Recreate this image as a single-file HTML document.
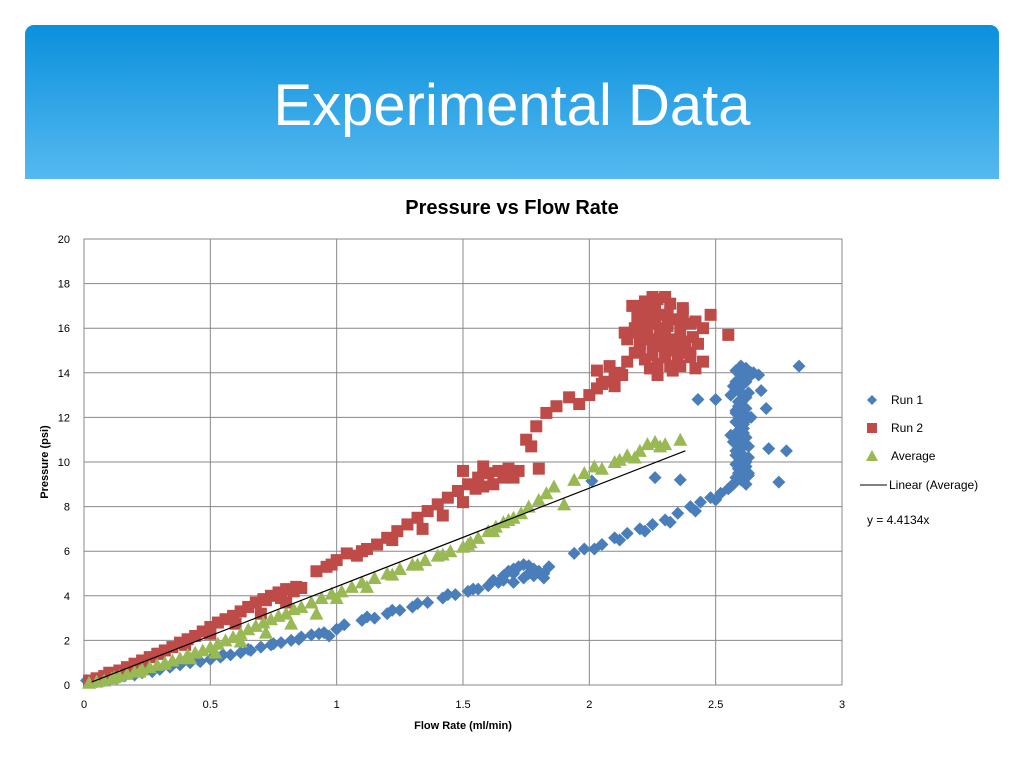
<!DOCTYPE html>
<html><head><meta charset="utf-8">
<style>
html,body{margin:0;padding:0;background:#fff;width:1024px;height:768px;overflow:hidden;font-family:"Liberation Sans",sans-serif}
#hdr{position:absolute;left:25px;top:25px;width:974px;height:154px;border-radius:9px 9px 0 0;background:linear-gradient(#0a90dc,#56b9f0)}
#hdr div{position:absolute;left:0;right:0;top:81px;text-align:center;color:#fff;font-size:58px;line-height:1;margin-top:-29px}
svg{position:absolute;left:0;top:0}
</style></head><body>
<div id="hdr"><div>Experimental Data</div></div>
<svg id="chart" width="1024" height="768"></svg>
<script>
const xTicks=[0,0.5,1,1.5,2,2.5,3];
const yTicks=[0,2,4,6,8,10,12,14,16,18,20];
const slope=4.4134;
const run1X=[0.01,0.05,0.08,0.1,0.13,0.16,0.2,0.23,0.27,0.3,0.34,0.38,0.42,0.46,0.5,0.54,0.58,0.62,0.66,0.7,0.74,0.78,0.82,0.86,0.9,0.93,0.97,1.0,1.03,1.1,1.15,1.2,1.25,1.3,1.36,1.42,1.47,1.52,1.56,1.6,1.64,1.66,1.68,1.7,1.72,1.74,1.76,1.78,1.8,1.82,1.84,1.66,1.7,1.74,1.78,1.94,1.98,2.05,2.1,2.15,2.2,2.25,2.3,2.35,2.4,2.44,2.48,2.52,2.55,2.57,2.58,2.6,2.62,2.59,2.61,2.63,2.58,2.6,2.62,2.59,2.61,2.63,2.58,2.6,2.62,2.59,2.61,2.6,2.58,2.62,2.6,2.59,2.61,2.57,2.6,2.63,2.56,2.58,2.6,2.62,2.64,2.6,2.83,2.43,2.5,2.67,2.7,2.68,2.26,2.36,2.71,2.78,2.75,2.01,2.65,2.64,
0.15,0.25,0.35,0.45,0.55,0.65,0.75,0.85,0.95,1.12,1.22,1.32,1.44,1.54,1.62,1.7,1.76,1.82,2.02,2.12,2.22,2.32,2.42,2.5,2.56,2.59,2.61,2.63,2.58,2.6,2.62,2.59,2.61,2.63,2.58,2.6,2.62,2.59,2.61,2.57,2.63,2.6,2.62,2.58,2.64,2.56,2.6,2.62,2.58,2.6];
const run1Y=[0.2,0.15,0.2,0.25,0.3,0.4,0.45,0.55,0.6,0.7,0.8,0.9,1.0,1.05,1.15,1.25,1.35,1.45,1.55,1.7,1.8,1.9,2.0,2.15,2.25,2.3,2.2,2.5,2.7,2.9,3.0,3.2,3.35,3.5,3.7,3.9,4.05,4.2,4.3,4.45,4.6,4.9,5.1,5.2,5.3,5.4,5.35,5.2,5.1,5.0,5.3,4.7,4.6,4.8,4.9,5.9,6.1,6.3,6.6,6.8,7.0,7.2,7.4,7.7,8.0,8.2,8.4,8.6,8.8,9.0,9.3,9.2,9.0,9.7,9.9,10.2,10.5,10.8,11.1,11.4,11.7,12.0,12.3,12.6,12.9,13.2,13.5,13.8,14.1,14.2,14.3,12.5,11.5,10.9,10.0,9.5,13.0,13.6,14.0,14.2,14.0,14.3,14.3,12.8,12.8,13.9,12.4,13.2,9.3,9.2,10.6,10.5,9.1,9.15,14.0,13.9,
0.45,0.7,0.9,1.15,1.35,1.6,1.85,2.05,2.35,3.05,3.35,3.65,4.05,4.3,4.7,5.0,5.0,4.8,6.1,6.5,6.9,7.3,7.8,8.3,8.9,9.5,9.6,9.4,10.3,10.6,10.0,11.0,11.3,10.7,11.8,12.1,12.4,12.7,13.0,13.4,13.1,13.9,13.6,12.2,12.0,11.2,10.4,9.8,9.9,11.9];
const run2X=[0.02,0.05,0.08,0.11,0.14,0.17,0.2,0.23,0.26,0.29,0.32,0.35,0.38,0.41,0.44,0.47,0.5,0.53,0.56,0.59,0.62,0.65,0.68,0.71,0.74,0.77,0.8,0.83,0.86,0.72,0.78,0.84,0.92,0.96,1.0,1.04,1.08,1.12,1.16,1.2,1.24,1.28,1.32,1.36,1.4,1.44,1.48,1.52,1.56,1.6,1.64,1.68,1.72,1.55,1.62,1.7,1.5,1.58,1.66,1.77,1.8,1.75,1.79,1.83,1.87,1.92,1.96,2.0,2.03,2.06,2.1,2.13,2.08,2.12,2.05,2.15,2.18,2.15,2.2,2.25,2.3,2.35,2.4,2.45,2.18,2.23,2.28,2.33,2.38,2.43,2.2,2.25,2.3,2.35,2.4,2.45,2.17,2.22,2.27,2.32,2.37,2.42,2.2,2.25,2.3,2.35,2.4,2.21,2.26,2.31,2.36,2.25,2.3,2.24,2.27,2.33,2.55,2.48,2.03,2.1,2.25,2.14,2.2,2.36,2.42,
0.1,0.2,0.3,0.4,0.5,0.6,0.7,0.8,0.98,1.1,1.22,1.34,1.42,1.5,1.58,1.66,2.19,2.24,2.29,2.34,2.39,2.21,2.26,2.31,2.36,2.41,2.23,2.28,2.33,2.38,2.2,2.25,2.3,2.35,2.22,2.27,2.32,2.37,2.19,2.24];
const run2Y=[0.2,0.3,0.4,0.5,0.65,0.8,0.95,1.1,1.25,1.4,1.55,1.7,1.9,2.05,2.2,2.4,2.6,2.8,2.95,3.1,3.3,3.5,3.7,3.85,4.0,4.15,4.3,4.2,4.35,3.8,3.9,4.4,5.1,5.3,5.6,5.9,5.8,6.1,6.3,6.6,6.9,7.2,7.5,7.8,8.1,8.4,8.7,9.0,9.3,9.5,9.6,9.7,9.6,8.8,9.0,9.3,9.6,9.8,9.5,10.7,9.7,11.0,11.6,12.2,12.5,12.9,12.6,13.0,13.3,13.6,13.4,13.9,14.3,14.0,13.5,14.5,14.9,15.5,15.0,14.8,14.7,14.6,14.7,14.5,16.0,15.8,15.6,15.5,15.4,15.3,16.5,16.8,16.6,16.4,16.2,16.0,17.0,17.2,17.3,17.1,16.9,16.3,15.3,15.2,15.1,15.0,14.9,16.2,16.4,16.6,16.3,17.4,17.4,14.2,13.9,14.1,15.7,16.6,14.1,13.9,14.2,15.8,16.8,14.3,14.2,
0.55,0.95,1.4,1.8,2.3,2.75,3.2,3.7,5.4,6.0,6.5,7.0,7.6,8.2,8.9,9.3,15.8,15.5,15.2,15.0,14.9,16.8,16.9,16.1,15.8,15.6,16.3,16.0,15.4,15.2,17.0,16.2,15.7,15.4,14.6,14.4,14.3,16.7,16.5,17.1];
const avgX=[0.02,0.05,0.08,0.11,0.14,0.17,0.2,0.23,0.26,0.29,0.32,0.35,0.38,0.41,0.44,0.47,0.5,0.53,0.56,0.59,0.62,0.65,0.68,0.71,0.74,0.77,0.8,0.83,0.86,0.9,0.94,0.98,1.02,1.06,1.1,1.15,1.2,1.25,1.3,1.35,1.4,1.45,1.5,1.53,1.56,1.6,1.63,1.66,1.7,1.73,1.76,1.8,1.83,1.86,1.9,1.94,1.98,2.05,2.1,2.15,2.2,2.23,2.26,2.3,2.36,
0.12,0.22,0.32,0.42,0.52,0.62,0.72,0.82,0.92,1.0,1.12,1.22,1.32,1.42,1.52,1.62,1.68,2.02,2.12,2.18,2.28];
const avgY=[0.1,0.15,0.2,0.3,0.4,0.5,0.6,0.7,0.8,0.9,1.0,1.1,1.2,1.35,1.45,1.55,1.7,1.85,2.0,2.15,2.3,2.5,2.65,2.8,2.95,3.1,3.2,3.4,3.5,3.7,3.9,4.1,4.2,4.4,4.6,4.8,5.0,5.2,5.4,5.6,5.8,6.0,6.2,6.4,6.6,6.9,7.1,7.3,7.5,7.7,8.0,8.3,8.6,8.9,8.1,9.2,9.5,9.7,10.0,10.3,10.5,10.8,10.9,10.8,11.0,
0.35,0.6,0.95,1.2,1.45,1.95,2.35,2.75,3.2,3.9,4.4,4.95,5.4,5.85,6.3,6.9,7.4,9.8,10.1,10.2,10.7];

const NS='http://www.w3.org/2000/svg';
const svg=document.getElementById('chart');
const L=84,R=842,T=239,B=685;
const sx=v=>L+(v-0)/(3-0)*(R-L);
const sy=v=>B-(v-0)/(20-0)*(B-T);
function mk(tag,attrs,parent){const e=document.createElementNS(NS,tag);for(const k in attrs)e.setAttribute(k,attrs[k]);(parent||svg).appendChild(e);return e;}

const grid=mk('g',{});


yTicks.forEach(t=>{const l=mk('line',{x1:L,x2:R,y1:sy(t),y2:sy(t),stroke:'#888','stroke-width':1},grid);

});
xTicks.forEach(t=>{const l=mk('line',{x1:sx(t),x2:sx(t),y1:T,y2:B,stroke:'#888','stroke-width':1},grid);

});
const frame=mk('rect',{x:L,y:T,width:R-L,height:B-T,fill:'none',stroke:'#888'});



yTicks.forEach(t=>{const e=mk('text',{x:70,y:sy(t)+4,'text-anchor':'end','font-size':11,fill:'#000'});e.textContent=t;

});
xTicks.forEach(t=>{const e=mk('text',{x:sx(t),y:708,'text-anchor':'middle','font-size':11,fill:'#000'});e.textContent=t;

});

function diamond(g,x,y,c){return mk('path',{d:`M${x} ${y-6.5}L${x+6.5} ${y}L${x} ${y+6.5}L${x-6.5} ${y}Z`,fill:c},g);}
function square(g,x,y,c){return mk('rect',{x:x-6,y:y-6,width:12,height:12,fill:c},g);}
function tri(g,x,y,c){return mk('path',{d:`M${x} ${y-7}L${x+7} ${y+6}L${x-7} ${y+6}Z`,fill:c},g);}

const g1=mk('g',{});


const g2=mk('g',{});


const gAvg=mk('g',{});


run1X.forEach((x,i)=>{const p=diamond(g1,sx(x),sy(run1Y[i]),'#4a7ebb');

});
run2X.forEach((x,i)=>{const p=square(g2,sx(x),sy(run2Y[i]),'#be4b48');

});
avgX.forEach((x,i)=>{const p=tri(gAvg,sx(x),sy(avgY[i]),'#98b954');

});
const tl=mk('line',{x1:sx(0.03),y1:sy(0.03*slope),x2:sx(2.38),y2:sy(2.38*slope),stroke:'#000','stroke-width':1.2});



function txt(x,y,s,attrs,name){const e=mk('text',Object.assign({x:x,y:y,fill:'#000'},attrs));e.textContent=s;

return e;}
txt(512,214,'Pressure vs Flow Rate',{'text-anchor':'middle','font-size':20,'font-weight':'bold'},'chart-title');
txt(463,729,'Flow Rate (ml/min)',{'text-anchor':'middle','font-size':11,'font-weight':'bold'},'x-axis-title');
txt(0,0,'Pressure (psi)',{'text-anchor':'middle','font-size':11,'font-weight':'bold',transform:'translate(48 462) rotate(-90)'},'y-axis-title');

const lg=mk('g',{});


const d1=mk('path',{d:'M872 395L877 400L872 405L867 400Z',fill:'#4a7ebb'},lg);


const s2=mk('rect',{x:867,y:423,width:10,height:10,fill:'#be4b48'},lg);


const t3=mk('path',{d:'M872 450L878 461L866 461Z',fill:'#98b954'},lg);


const ll=mk('line',{x1:860,x2:887,y1:485,y2:485,stroke:'#000','stroke-width':1},lg);


txt(891,404,'Run 1',{'font-size':12},'legend-run-1');
txt(891,432,'Run 2',{'font-size':12},'legend-run-2');
txt(891,460,'Average',{'font-size':12},'legend-average');
txt(889,489,'Linear (Average)',{'font-size':12},'legend-linear');
txt(867,524,'y = 4.4134x',{'font-size':12},'trendline-equation');
</script>
</body></html>
